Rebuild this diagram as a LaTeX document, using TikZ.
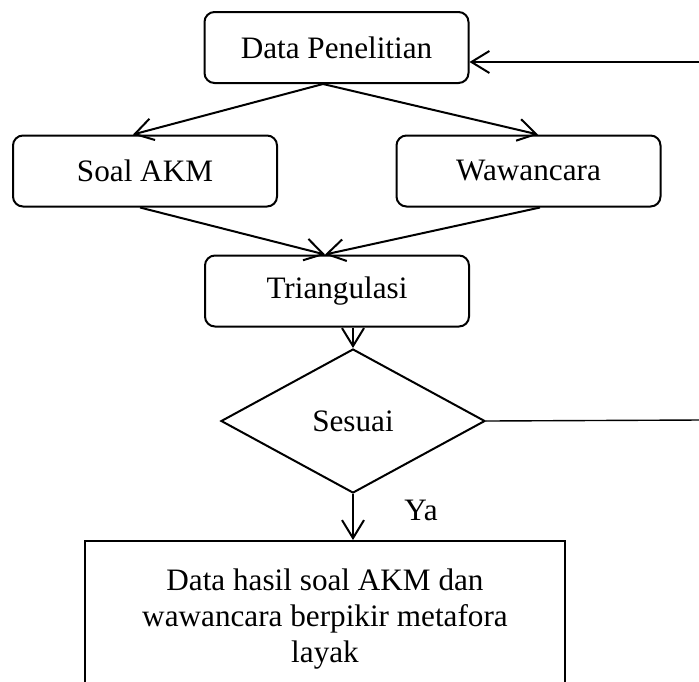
\documentclass[tikz,border=0pt]{standalone}
\usepackage{fontspec}
\setmainfont{Liberation Serif}
\usetikzlibrary{shapes.geometric,arrows.meta}

\begin{document}
\begin{tikzpicture}[x=0.5pt,y=-0.5pt,
  every node/.style={font=\fontsize{15.6}{17.8}\selectfont},
  roundbox/.style={draw,line width=1pt,rounded corners=5pt,rectangle,
    minimum width=132pt,minimum height=35.5pt,inner sep=0pt},
  decision/.style={draw,line width=1pt,diamond,minimum width=132pt,
    minimum height=72pt,inner sep=0pt},
  resultbox/.style={draw,line width=1pt,rectangle,minimum width=240pt,
    minimum height=78pt,inner sep=0pt,align=center},
  flow/.style={line width=1pt,-{Straight Barb[length=9pt,width=11pt,line width=1pt]}},
  feedback/.style={line width=0.7pt}]
  \useasboundingbox (0,0) rectangle (699,681);
  \clip (0,0) rectangle (699,681);

  % process steps
  \node[roundbox] (dp)   at (336.5,47.5) {Data Penelitian};
  \node[roundbox] (soal) at (145,171)    {Soal AKM};
  \node[roundbox] (waw)  at (528.5,171)  {Wawancara};
  \node[roundbox] (tri)  at (337,291)    {Triangulasi};
  \node[decision] (dia)  at (353,421)    {Sesuai};
  \node[resultbox] (res) at (325,619)
    {Data hasil soal AKM dan\\wawancara berpikir metafora\\layak};
  \node (ya) at (421,510) {Ya};

  % loose ends of the loop back to the start
  \coordinate (loopin)  at (699,62);
  \coordinate (loopout) at (699,420);

  % connectors
  \draw[flow] ([xshift=-6.75pt]dp.south) -- ([xshift=-6pt]soal.north);
  \draw[flow] ([xshift=-6.75pt]dp.south) -- ([xshift=4.75pt]waw.north);
  \draw[flow] ([xshift=-2.5pt]soal.south) -- ([xshift=-6pt]tri.north);
  \draw[flow] ([xshift=5.75pt]waw.south) -- ([xshift=-6pt]tri.north);
  \draw[flow] (dia.north |- tri.south) -- (dia.north);
  \draw[flow] (dia.south) -- (dia.south |- res.north);
  \draw[feedback] (dia.east) -- (loopout);
  \draw[flow] (loopin) -- (loopin -| dp.east);
\end{tikzpicture}
\end{document}
